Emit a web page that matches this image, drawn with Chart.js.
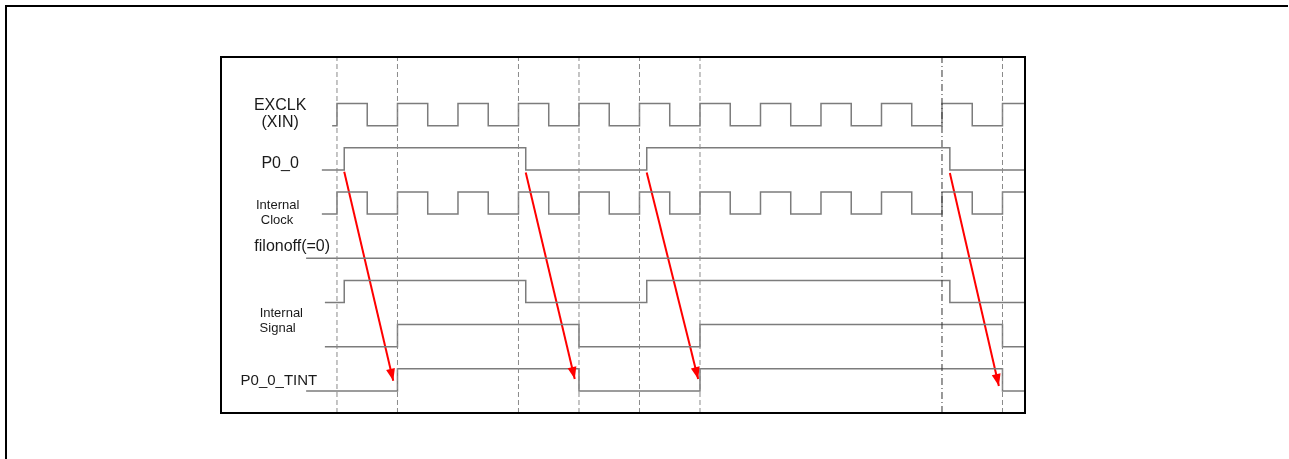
<!doctype html>
<html lang="en">
<head>
    <meta charset="utf-8">
    <title>P0_0 interrupt timing</title>
    <style>
        body { margin: 0; background: #fff; }
        #timing { display: block; }
    </style>
</head>
<body>
<canvas id="timing" width="1289" height="459"></canvas>

<script src="https://cdn.jsdelivr.net/npm/chart.js"></script>
<script>
    // time axis is in clock periods, t = 0 is the first EXCLK rising edge
    // each signal row: low level = -row, high level = -row + 0.5
    const clockEdges = [0, 0.5, 1, 1.5, 2, 2.5, 3, 3.5, 4, 4.5, 5, 5.5, 6, 6.5, 7, 7.5, 8, 8.5, 9, 9.5, 10, 10.5, 11];
    const p00Edges = [0.12, 3.12, 5.12, 10.13];
    const filonoffEdges = [];
    const syncEdges = [1, 4, 6, 11];

    const signalRows = ['EXCLK', 'P0_0', 'Internal Clock', 'filonoff', 'Internal Signal', 'Internal Signal sync', 'P0_0_TINT'];
    const signalEdges = [clockEdges, p00Edges, clockEdges, filonoffEdges, p00Edges, syncEdges, syncEdges];
    const signalStart = [-0.08, -0.25, -0.25, -0.51, -0.2, -0.2, -0.51];
    const signalEnd = 11.36;

    const markerTimes = [0, 1, 3, 4, 5, 6, 10, 11];

    const arrowFromT = [0.12, 3.12, 5.12, 10.13];
    const arrowFromY = [-1.04, -1.06, -1.06, -1.07];
    const arrowToT = [0.93, 3.93, 5.97, 10.94];
    const arrowToY = [-5.77, -5.73, -5.73, -5.89];

    // text: [line, t, y, font size]
    const labelText = [
        ['EXCLK', -0.94, 0.355, 16],
        ['(XIN)', -0.94, -0.02, 16],
        ['P0_0', -0.94, -0.957, 16],
        ['Internal', -0.98, -1.89, 13],
        ['Clock', -0.99, -2.22, 13],
        ['filonoff(=0)', -0.74, -2.84, 16],
        ['Internal', -0.92, -4.33, 13],
        ['Signal', -0.98, -4.67, 13],
        ['P0_0_TINT', -0.96, -5.87, 15]
    ];

    function wave(row) {
        let level = -row;
        const pts = [{x: signalStart[row], y: level}];
        signalEdges[row].forEach(t => {
            level = (level === -row) ? -row + 0.5 : -row;
            pts.push({x: t, y: level});
        });
        pts.push({x: signalEnd, y: level});
        return pts;
    }

    const datasets = [];

    markerTimes.forEach(t => {
        datasets.push({
            data: [{x: t, y: -6.5}, {x: t, y: 1.554}],
            borderColor: t === 10 ? '#333' : '#8a8a8a',
            borderWidth: 1,
            borderDash: t === 10 ? [7, 3, 1, 3] : [5, 3],
            pointRadius: 0
        });
    });

    signalRows.forEach((name, row) => {
        datasets.push({
            label: name,
            data: wave(row),
            stepped: 'before',
            borderColor: '#7c7c7c',
            borderWidth: 1.5,
            pointRadius: 0
        });
    });

    arrowFromT.forEach((t, i) => {
        datasets.push({
            isArrow: true,
            data: [{x: t, y: arrowFromY[i]}, {x: arrowToT[i], y: arrowToY[i]}],
            borderColor: '#ff0000',
            borderWidth: 2,
            pointRadius: 0
        });
    });

    const framePlugin = {
        id: 'frame',
        beforeDraw(chart) {
            const c = chart.ctx;
            c.save();
            c.fillStyle = '#fff';
            c.fillRect(0, 0, chart.width, chart.height);
            c.strokeStyle = '#000';
            c.lineWidth = 2;
            c.beginPath();
            c.moveTo(6, chart.height);
            c.lineTo(6, 6);
            c.lineTo(1288, 6);
            c.stroke();
            c.restore();
        },
        afterDatasetsDraw(chart) {
            const c = chart.ctx;
            c.save();
            // arrow heads
            chart.data.datasets.forEach((ds, i) => {
                if (!ds.isArrow) return;
                const pts = chart.getDatasetMeta(i).data;
                const a = pts[0], b = pts[1];
                const ang = Math.atan2(b.y - a.y, b.x - a.x);
                c.fillStyle = ds.borderColor;
                c.beginPath();
                c.moveTo(b.x, b.y);
                c.lineTo(b.x - 12 * Math.cos(ang) + 4.5 * Math.sin(ang), b.y - 12 * Math.sin(ang) - 4.5 * Math.cos(ang));
                c.lineTo(b.x - 12 * Math.cos(ang) - 4.5 * Math.sin(ang), b.y - 12 * Math.sin(ang) + 4.5 * Math.cos(ang));
                c.closePath();
                c.fill();
            });
            // signal names
            const xs = chart.scales.x, ys = chart.scales.y;
            c.fillStyle = '#1a1a1a';
            c.textAlign = 'center';
            c.textBaseline = 'alphabetic';
            labelText.forEach(([txt, t, y, size]) => {
                c.font = size + 'px "Liberation Sans", Arial, sans-serif';
                c.fillText(txt, xs.getPixelForValue(t), ys.getPixelForValue(y));
            });
            // diagram box
            const ca = chart.chartArea;
            c.strokeStyle = '#000';
            c.lineWidth = 2;
            c.strokeRect(ca.left, ca.top, ca.right - ca.left, ca.bottom - ca.top);
            c.restore();
        }
    };

    new Chart(document.getElementById('timing'), {
        type: 'line',
        data: {datasets: datasets},
        options: {
            responsive: false,
            animation: false,
            layout: {padding: {left: 221, top: 57, right: 264, bottom: 46}},
            scales: {
                x: {type: 'linear', min: -1.917, max: 11.372, display: false},
                y: {type: 'linear', min: -6.5, max: 1.554, display: false}
            },
            plugins: {
                legend: {display: false},
                tooltip: {enabled: false}
            }
        },
        plugins: [framePlugin]
    });
</script>
</body>
</html>
